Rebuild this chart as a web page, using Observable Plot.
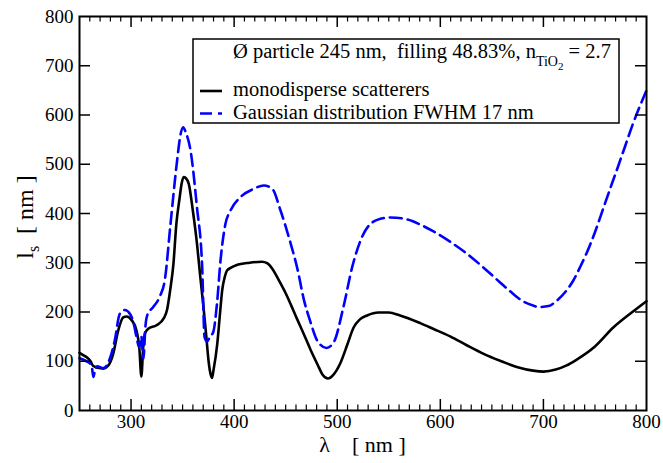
<!DOCTYPE html>
<html>
<head>
<meta charset="utf-8">
<script src="https://cdn.jsdelivr.net/npm/d3@7"></script>
<script src="https://cdn.jsdelivr.net/npm/@observablehq/plot@0.6"></script>
<style>
  html, body { margin: 0; padding: 0; background: white; }
</style>
</head>
<body>
<div id="chart"></div>
<script>
// ---- data ----
const lambdaMono = [250, 254, 257, 260.7, 263, 266, 270, 273, 277.8, 282.7, 287.5, 292.4, 295.6, 300.4, 305.3, 308, 310, 311.8, 313.4, 316.6, 324.7, 332, 335, 338, 341, 344, 347, 349, 351, 353, 356, 360, 364, 367, 370.6, 373, 375.5, 377, 378.5, 380, 383.6, 386, 388.4, 391, 393, 397, 402, 415, 427, 432, 437, 444, 450, 455, 461, 467, 474, 481, 486, 491, 496, 503, 510, 516, 522, 529, 540, 550, 561, 581, 593, 610, 626, 642, 658, 675, 690, 700, 712, 722, 732, 750, 768, 785, 800];
const lsMono = [117, 112, 108, 100, 91, 88, 86, 85, 91, 115, 162, 189, 191, 184, 162, 128, 69, 128, 156, 166, 173, 188, 205, 245, 295, 380, 430, 460, 474, 472, 460, 405, 338, 275, 203, 150, 95, 75, 66, 82, 135, 190, 244, 272, 284, 290, 295, 300, 302, 299, 288, 262, 238, 215, 186, 158, 124, 93, 72, 65, 72, 96, 135, 169, 185, 193, 199, 199, 193, 177, 166, 150, 132, 115, 101, 88, 81, 79, 83, 91, 103, 130, 169, 198, 222];

const lambdaGauss = [250, 256.8, 260, 262, 263.5, 265, 267, 273, 279.4, 284.2, 289, 294, 299, 302.7, 305.3, 308, 310, 312, 314, 316, 321.5, 328, 332.7, 338.3, 344.7, 348, 350.6, 353, 357.7, 363.9, 369, 371.3, 373.9, 376.5, 379.7, 383.5, 386.8, 391.6, 396.5, 406, 419, 428.8, 437, 445, 454.7, 461, 468, 474, 480.6, 489.6, 496.7, 506, 514.5, 524, 538.7, 551.7, 568, 581, 593, 610, 626, 642, 658, 670, 680, 690, 696, 705, 713, 721, 729, 736, 742, 750, 758, 765, 772, 779, 787, 794, 800];
const lsGauss = [106, 100, 96, 88, 68, 82, 90, 86, 105, 142, 196, 204, 196, 176, 149, 128, 150, 105, 172, 195, 210, 232, 264, 379, 508, 560, 575, 565, 528, 413, 291, 149, 140, 150, 159, 220, 305, 379, 406, 433, 450, 457, 450, 406, 340, 291, 222, 180, 142, 127, 139, 210, 291, 352, 387, 392, 388, 377, 364, 342, 318, 290, 260, 238, 222, 213, 210, 212, 223, 240, 264, 293, 320, 362, 410, 452, 493, 535, 583, 620, 650];

const xTickLabels = [300, 400, 500, 600, 700, 800];
const xMajorTicks = [300, 400, 500, 600, 700];
const xMinorTicks = [260, 270, 280, 290, 310, 320, 330, 340, 350, 360, 370, 380, 390, 410, 420, 430, 440, 450, 460, 470, 480, 490, 510, 520, 530, 540, 550, 560, 570, 580, 590, 610, 620, 630, 640, 650, 660, 670, 680, 690, 710, 720, 730, 740, 750, 760, 770, 780, 790];
const yTickLabels = [0, 100, 200, 300, 400, 500, 600, 700, 800];
const yMajorTicks = [100, 200, 300, 400, 500, 600, 700];

const seriesNames = ["monodisperse scatterers", "Gaussian distribution FWHM 17 nm"];

const mono = lambdaMono.map((l, i) => ({lambda: l, ls: lsMono[i]}));
const gauss = lambdaGauss.map((l, i) => ({lambda: l, ls: lsGauss[i]}));

// ---- layout ----
const W = 663, H = 463;
const mL = 79, mR = 17, mT = 16, mB = 53;
const innerH = H - mT - mB;
const innerW = W - mL - mR;
const major = 11, minor = 5.5;
const serif = "'Liberation Serif', 'Times New Roman', Times, serif";

const chart = Plot.plot({
  width: W, height: H,
  marginLeft: mL, marginRight: mR, marginTop: mT, marginBottom: mB,
  x: {domain: [250, 800]},
  y: {domain: [0, 800]},
  style: {fontFamily: serif, fontSize: "19px", background: "white", color: "black", overflow: "visible"},
  marks: [
    Plot.line(mono, {x: "lambda", y: "ls", stroke: "black", strokeWidth: 2.6, curve: "monotone-x"}),
    Plot.line(gauss, {x: "lambda", y: "ls", stroke: "#0000ff", strokeWidth: 2.6, strokeDasharray: "12,6", curve: "monotone-x"}),
    // bottom ticks (inward)
    Plot.tickX(xMajorTicks, {x: d => d, insetTop: innerH - major, stroke: "black", strokeWidth: 1.5}),
    Plot.tickX(xMinorTicks, {x: d => d, insetTop: innerH - minor, stroke: "black", strokeWidth: 1.2}),
    // top ticks (inward)
    Plot.tickX(xMajorTicks, {x: d => d, insetBottom: innerH - major, stroke: "black", strokeWidth: 1.5}),
    Plot.tickX(xMinorTicks, {x: d => d, insetBottom: innerH - minor, stroke: "black", strokeWidth: 1.2}),
    // left and right ticks (inward)
    Plot.tickY(yMajorTicks, {y: d => d, insetRight: innerW - major, stroke: "black", strokeWidth: 1.5}),
    Plot.tickY(yMajorTicks, {y: d => d, insetLeft: innerW - major, stroke: "black", strokeWidth: 1.5}),
    Plot.frame({stroke: "black", strokeWidth: 2}),
    Plot.axisX(xTickLabels, {tickSize: 0, tickPadding: 4, label: null, fontSize: 19}),
    Plot.axisY(yTickLabels, {tickSize: 0, tickPadding: 6, label: null, fontSize: 19})
  ]
});

document.getElementById("chart").appendChild(chart);

const svg = d3.select(chart);

// axis labels
svg.append("text")
  .attr("x", mL + innerW / 2).attr("y", 452)
  .attr("text-anchor", "middle")
  .attr("font-family", serif).attr("font-size", 22).attr("fill", "black")
  .text("λ\u00a0\u00a0\u00a0\u00a0[ nm ]");

const yl = svg.append("text")
  .attr("transform", "translate(33,217) rotate(-90)")
  .attr("text-anchor", "middle")
  .attr("font-family", serif).attr("font-size", 24).attr("fill", "black");
yl.append("tspan").text("l");
yl.append("tspan").attr("font-size", 16).attr("dy", 6).text("s");
yl.append("tspan").attr("dy", -6).text("\u00a0\u00a0[ nm ]");

// legend
const lg = svg.append("g").attr("font-family", serif).attr("font-size", 20.5)
  .attr("fill", "black").attr("text-anchor", "start");
lg.append("rect").attr("x", 193).attr("y", 39).attr("width", 426).attr("height", 84)
  .attr("fill", "white").attr("stroke", "black").attr("stroke-width", 1.5);
const t1 = lg.append("text").attr("x", 233).attr("y", 58).attr("text-anchor", "start");
t1.append("tspan").text("Ø particle 245 nm,\u00a0\u00a0filling 48.83%, n");
t1.append("tspan").attr("font-size", 14).attr("dy", 7.5).text("TiO");
t1.append("tspan").attr("font-size", 11).attr("dy", 4.5).text("2");
t1.append("tspan").attr("dy", -12).text(" = 2.7");

lg.append("line").attr("x1", 200).attr("x2", 222).attr("y1", 91).attr("y2", 91)
  .attr("stroke", "black").attr("stroke-width", 2.6);
lg.append("text").attr("x", 233).attr("y", 96).attr("text-anchor", "start").text(seriesNames[0]);

lg.append("line").attr("x1", 200).attr("x2", 222).attr("y1", 113.5).attr("y2", 113.5)
  .attr("stroke", "#0000ff").attr("stroke-width", 2.6).attr("stroke-dasharray", "12,6");
lg.append("text").attr("x", 233).attr("y", 118.5).attr("text-anchor", "start").text(seriesNames[1]);
</script>
</body>
</html>
